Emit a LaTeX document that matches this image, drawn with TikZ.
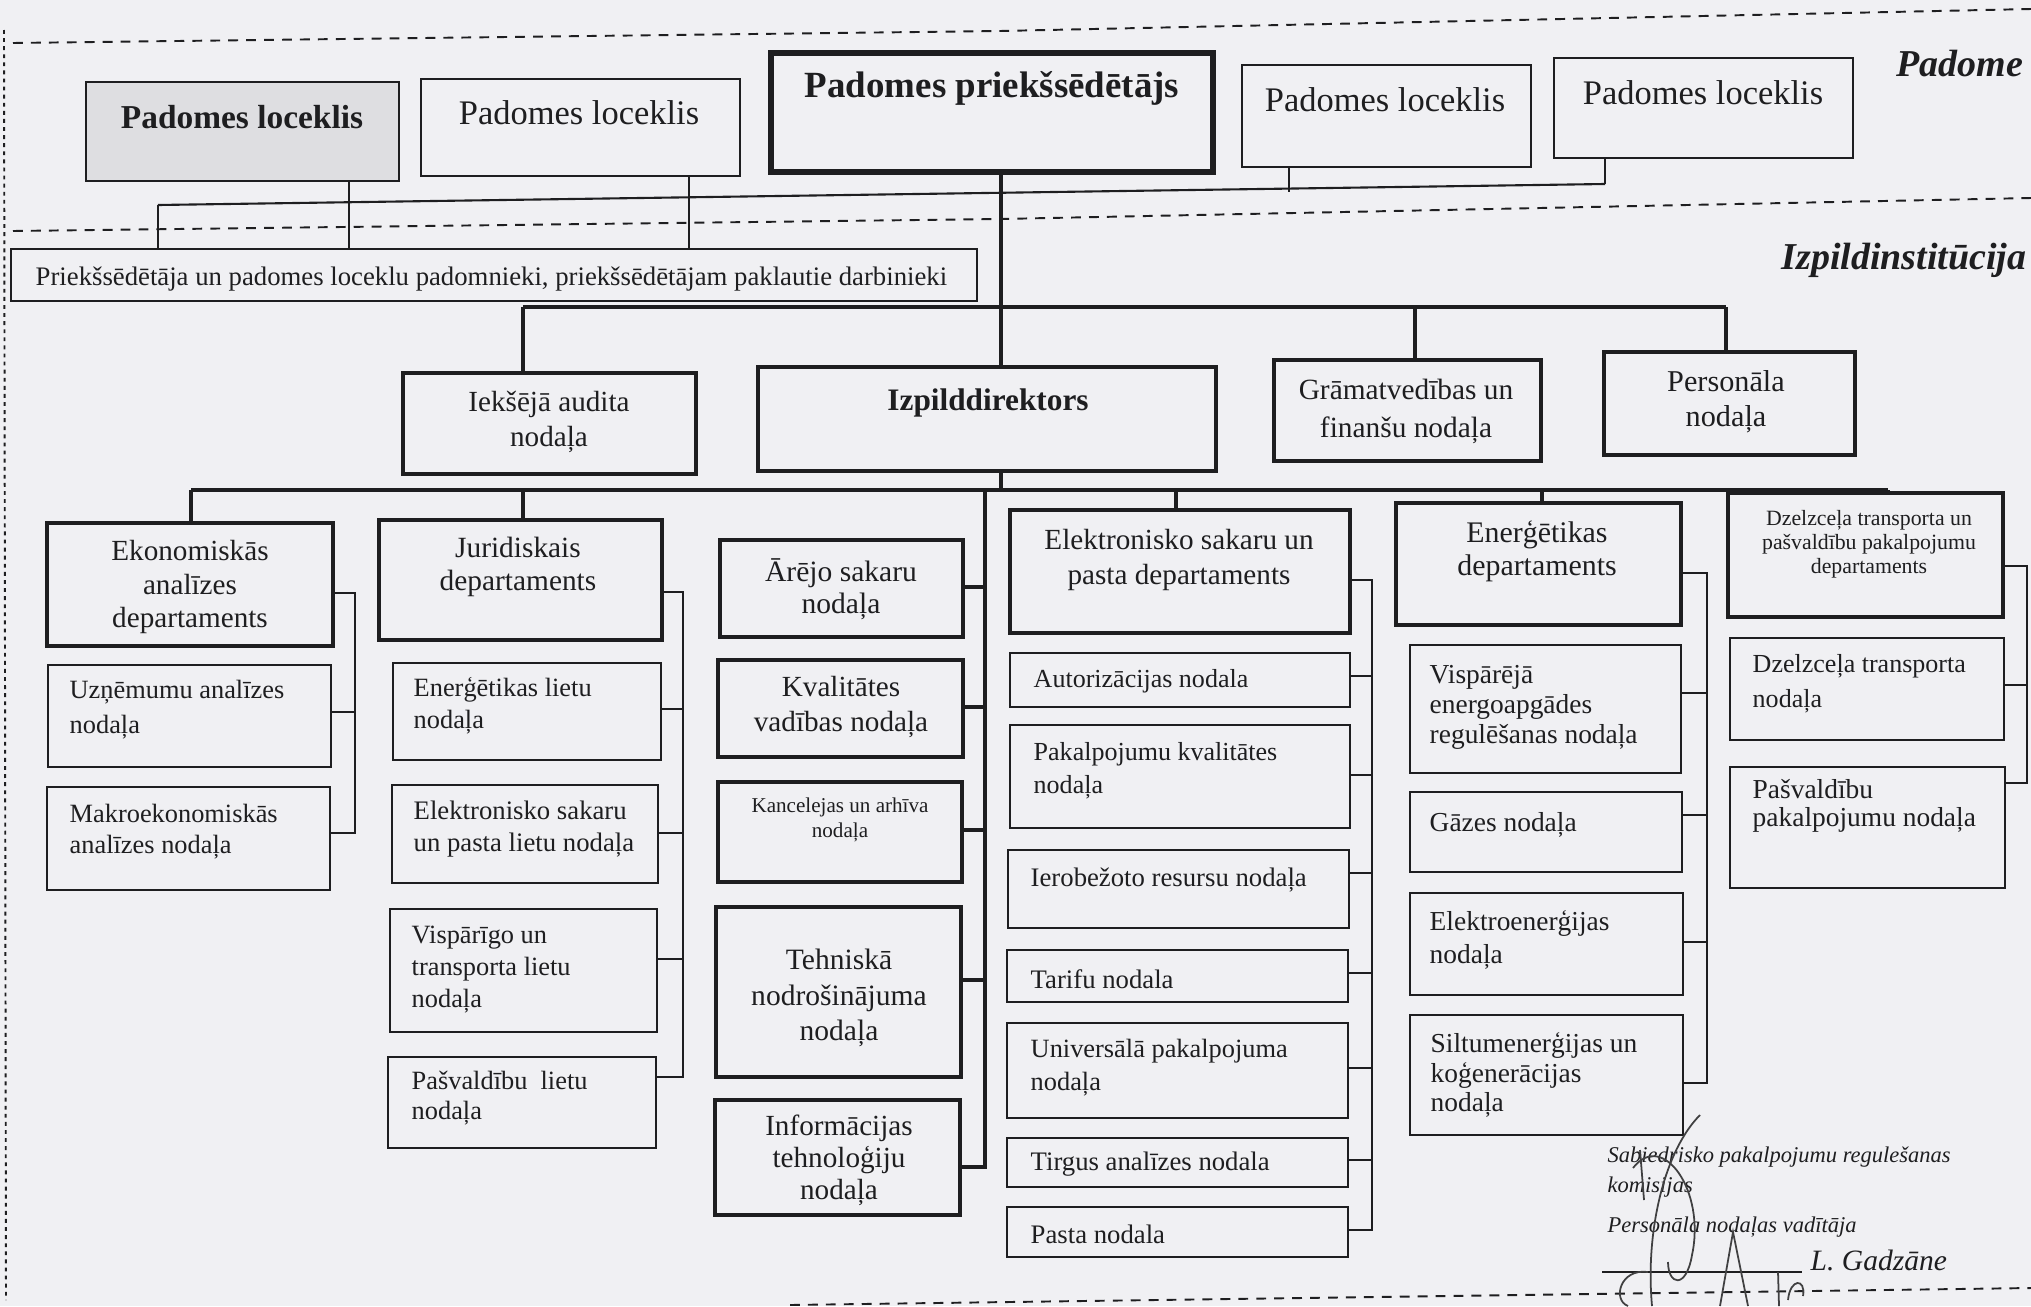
\documentclass[tikz,border=0pt]{standalone}
\usepackage{fontspec}
\setmainfont{Liberation Serif}
\usetikzlibrary{fit}
\definecolor{ink}{RGB}{30,30,32}
\definecolor{paper}{RGB}{240,240,243}
\definecolor{pfill}{RGB}{222,222,225}
\newcommand\myfs[2]{\fontsize{#1}{#2}\selectfont}
\begin{document}
\begin{tikzpicture}[x=0.01cm,y=-0.01cm,
  thinbox/.style={draw=ink,line width=0.6pt,inner sep=0pt},
  medbox/.style={draw=ink,line width=1.0pt,inner sep=0pt},
  thickbox/.style={draw=ink,line width=1.3pt,inner sep=0pt},
  chairbox/.style={draw=ink,line width=1.7pt,inner sep=0pt},
  thinln/.style={draw=ink,line width=0.6pt},
  thickln/.style={draw=ink,line width=1.2pt},
  dashln/.style={draw=ink,line width=0.55pt,dash pattern=on 2.8pt off 2.3pt},
  sig/.style={draw=ink!85,line width=0.5pt},
  ctxt/.style={inner sep=0pt,text=ink,align=center},
  ltxt/.style={inner sep=0pt,text=ink,align=left,anchor=west},
]
\useasboundingbox (0,0) rectangle (2031,1306);
\fill[paper] (0,0) rectangle (2031,1306);

% ---------- dashed separators ----------
\coordinate (d1a) at (13,43); \coordinate (d1b) at (1000,31); \coordinate (d1c) at (2031,9);
\draw[dashln] (d1a) -- (d1b) -- (d1c);
\coordinate (d2a) at (13,231); \coordinate (d2b) at (1000,219); \coordinate (d2c) at (2031,198);
\draw[dashln] (d2a) -- (d2b) -- (d2c);
\coordinate (d3a) at (790,1305); \coordinate (d3b) at (2031,1288);
\draw[dashln] (d3a) -- (d3b);
\coordinate (d4a) at (4,30); \coordinate (d4b) at (6,1300);
\draw[dashln,dash pattern=on 1.1pt off 1.2pt] (d4a) -- (d4b);

% ---------- Padome ----------
\node[thinbox,fill=pfill,fit={(86,82) (399,181)}] (p1) {};
\node[thinbox,fit={(421,79) (740,176)}] (p2) {};
\node[chairbox,fit={(771,53) (1213,172)}] (chair) {};
\node[thinbox,fit={(1242,65) (1531,167)}] (p3) {};
\node[thinbox,fit={(1554,58) (1853,158)}] (p4) {};
\node[ctxt,font=\bfseries\myfs{9.5}{11}] (p1t) at (242,117) {Padomes loceklis};
\node[ctxt,font=\myfs{9.8}{11}] (p2t) at (579,113) {Padomes loceklis};
\node[ctxt,font=\bfseries\myfs{10.5}{12}] (chairt) at (992,88) {Padomes priekšsēdētājs};
\node[ctxt,font=\myfs{9.8}{11}] (p3t) at (1385,100) {Padomes loceklis};
\node[ctxt,font=\myfs{9.8}{11}] (p4t) at (1703,93) {Padomes loceklis};
\node[ctxt,font=\bfseries\itshape\myfs{10.8}{12}] (lpad) at (1960,64) {Padome};
\node[ctxt,font=\bfseries\itshape\myfs{10.8}{12}] (lizp) at (1904,260) {Izpildinstitūcija};

\node[thinbox,fit={(11,249) (977,301)}] (adv) {};
\node[ltxt,font=\myfs{7.6}{9}] (advt) at (35,279) {Priekšsēdētāja un padomes loceklu padomnieki, priekšsēdētājam paklautie darbinieki};

% Padome connectors
\coordinate (pbL) at (158,205); \coordinate (pbR) at (1605,184);
\coordinate (cp1) at (349,0); \coordinate (cp2) at (689,0); \coordinate (cp3) at (1289,0);
\draw[thinln] (pbL) -- (pbR);
\draw[thinln] (pbL) -- (pbL |- adv.north);
\draw[thinln] (p1.south -| cp1) -- (adv.north -| cp1);
\draw[thinln] (p2.south -| cp2) -- (adv.north -| cp2);
\draw[thinln] (p3.south -| cp3) -- (cp3 |- 0,192);
\draw[thinln] (p4.south -| pbR) -- (pbR);

% ---------- level 2 ----------
\node[medbox,fit={(403,373) (696,474)}] (iaudit) {};
\node[thickbox,fit={(758,367) (1216,471)}] (izp) {};
\node[medbox,fit={(1274,360) (1541,461)}] (gram) {};
\node[medbox,fit={(1604,352) (1855,455)}] (pers) {};
\node[ctxt,font=\myfs{8.3}{10}] (iauditt) at (549,422) {Iekšējā audita\\nodaļa};
\node[ctxt,font=\bfseries\myfs{8.9}{10}] (izpt) at (988,403) {Izpilddirektors};
\node[ctxt,font=\myfs{8.35}{10.8}] (gramt) at (1406,411) {Grāmatvedības un\\finanšu nodaļa};
\node[ctxt,font=\myfs{8.6}{10}] (perst) at (1726,402) {Personāla\\nodaļa};

\coordinate (b1) at (1001,0);
\draw[thickln] (chair.south -| b1) -- (izp.north -| b1);
\coordinate (bA) at (523,307); \coordinate (bB) at (1415,307); \coordinate (bC) at (1726,307);
\draw[thickln] (bA) -- (bC);
\draw[thickln] (bA) -- (bA |- iaudit.north);
\draw[thickln] (bB) -- (bB |- gram.north);
\draw[thickln] (bC) -- (bC |- pers.north);

% ---------- level 3 ----------
\node[medbox,fit={(47,523) (333,646)}] (ekon) {};
\node[medbox,fit={(379,520) (662,640)}] (jur) {};
\node[medbox,fit={(720,540) (963,637)}] (arej) {};
\node[medbox,fit={(1010,510) (1350,633)}] (elek) {};
\node[medbox,fit={(1396,503) (1681,625)}] (energ) {};
\node[medbox,fit={(1728,493) (2003,617)}] (dzelz) {};
\node[ctxt,font=\myfs{8.3}{9.5}] (ekont) at (190,587) {Ekonomiskās\\analīzes\\departaments};
\node[ctxt,font=\myfs{8.35}{9.4}] (jurt) at (518,567) {Juridiskais\\departaments};
\node[ctxt,font=\myfs{8.4}{9.1}] (arejt) at (841,589) {Ārējo sakaru\\nodaļa};
\node[ctxt,font=\myfs{8.3}{10}] (elekt) at (1179,560) {Elektronisko sakaru un\\pasta departaments};
\node[ctxt,font=\myfs{8.5}{9.4}] (energt) at (1537,551) {Enerģētikas\\departaments};
\node[ctxt,font=\myfs{6.2}{6.8}] (dzelzt) at (1869,544) {Dzelzceļa transporta un\\pašvaldību pakalpojumu\\departaments};

\coordinate (b2) at (1001,490);
\draw[thickln] (izp.south -| b2) -- (b2);
\coordinate (cA) at (191,490); \coordinate (cB) at (523,490); \coordinate (cS) at (985,490);
\coordinate (cE) at (1176,490); \coordinate (cF) at (1542,490); \coordinate (cG) at (1888,490);
\draw[thickln] (cA) -- (cG);
\draw[thickln] (cA) -- (cA |- ekon.north);
\draw[thickln] (cB) -- (cB |- jur.north);
\draw[thickln] (cE) -- (cE |- elek.north);
\draw[thickln] (cF) -- (cF |- energ.north);
\draw[thickln] (cG) -- (cG |- dzelz.north);

% ---------- column 1 ----------
\node[thinbox,fit={(48,665) (331,767)}] (uzn) {};
\node[thinbox,fit={(47,787) (330,890)}] (makro) {};
\node[ltxt,font=\myfs{7.5}{10}] (uznt) at (69,710) {Uzņēmumu analīzes\\nodaļa};
\node[ltxt,font=\myfs{7.5}{8.8}] (makrot) at (69,832) {Makroekonomiskās\\analīzes nodaļa};
\coordinate (k1a) at (355,593); \coordinate (k1b) at (355,712); \coordinate (k1c) at (355,833);
\draw[thinln] (ekon.east |- k1a) -- (k1a) -- (k1c) -- (makro.east |- k1c);
\draw[thinln] (uzn.east |- k1b) -- (k1b);

% ---------- column 2 ----------
\node[thinbox,fit={(393,663) (661,760)}] (enl) {};
\node[thinbox,fit={(392,785) (658,883)}] (esl) {};
\node[thinbox,fit={(390,909) (657,1032)}] (vtl) {};
\node[thinbox,fit={(388,1057) (656,1148)}] (pvl) {};
\node[ltxt,font=\myfs{7.5}{9.1}] (enlt) at (413,706) {Enerģētikas lietu\\nodaļa};
\node[ltxt,font=\myfs{7.6}{9.1}] (eslt) at (413,829) {Elektronisko sakaru\\un pasta lietu nodaļa};
\node[ltxt,font=\myfs{7.5}{9.1}] (vtlt) at (411,970) {Vispārīgo un\\transporta lietu\\nodaļa};
\node[ltxt,font=\myfs{7.5}{8.5}] (pvlt) at (411,1098) {Pašvaldību\ \ lietu\\nodaļa};
\coordinate (k2a) at (683,592); \coordinate (k2b) at (683,709); \coordinate (k2c) at (683,833);
\coordinate (k2d) at (683,959); \coordinate (k2e) at (683,1077);
\draw[thinln] (jur.east |- k2a) -- (k2a) -- (k2e) -- (pvl.east |- k2e);
\draw[thinln] (enl.east |- k2b) -- (k2b);
\draw[thinln] (esl.east |- k2c) -- (k2c);
\draw[thinln] (vtl.east |- k2d) -- (k2d);

% ---------- column 3 (spine) ----------
\node[medbox,fit={(718,660) (963,757)}] (kval) {};
\node[medbox,fit={(718,782) (962,882)}] (kanc) {};
\node[medbox,fit={(716,907) (961,1077)}] (tehn) {};
\node[medbox,fit={(715,1100) (960,1215)}] (info) {};
\node[ctxt,font=\myfs{8.3}{10}] (kvalt) at (841,707) {Kvalitātes\\vadības nodaļa};
\node[ctxt,font=\myfs{6}{7.1}] (kanct) at (840,820) {Kancelejas un arhīva\\nodaļa};
\node[ctxt,font=\myfs{8.4}{10}] (tehnt) at (839,998) {Tehniskā\\nodrošinājuma\\nodaļa};
\node[ctxt,font=\myfs{8.3}{9.1}] (infot) at (839,1160) {Informācijas\\tehnoloģiju\\nodaļa};
\coordinate (s1) at (985,587); \coordinate (s2) at (985,707); \coordinate (s3) at (985,830);
\coordinate (s4) at (985,980); \coordinate (s5) at (985,1167);
\draw[thickln] (cS) -- (s5) -- (info.east |- s5);
\draw[thickln] (arej.east |- s1) -- (s1);
\draw[thickln] (kval.east |- s2) -- (s2);
\draw[thickln] (kanc.east |- s3) -- (s3);
\draw[thickln] (tehn.east |- s4) -- (s4);

% ---------- column 4 ----------
\node[thinbox,fit={(1010,653) (1350,707)}] (autor) {};
\node[thinbox,fit={(1010,725) (1350,828)}] (pakkv) {};
\node[thinbox,fit={(1008,850) (1349,928)}] (ierob) {};
\node[thinbox,fit={(1007,950) (1348,1002)}] (tarif) {};
\node[thinbox,fit={(1007,1023) (1348,1118)}] (univ) {};
\node[thinbox,fit={(1007,1138) (1348,1187)}] (tirg) {};
\node[thinbox,fit={(1007,1207) (1348,1257)}] (pasta) {};
\node[ltxt,font=\myfs{7.4}{9}] (autort) at (1033,681) {Autorizācijas nodala};
\node[ltxt,font=\myfs{7.4}{9.4}] (pakkvt) at (1033,771) {Pakalpojumu kvalitātes\\nodaļa};
\node[ltxt,font=\myfs{7.6}{9}] (ierobt) at (1030,880) {Ierobežoto resursu nodaļa};
\node[ltxt,font=\myfs{7.6}{9}] (tarift) at (1030,979) {Tarifu nodala};
\node[ltxt,font=\myfs{7.5}{9.4}] (univt) at (1030,1068) {Universālā pakalpojuma\\nodaļa};
\node[ltxt,font=\myfs{7.6}{9}] (tirgt) at (1030,1164) {Tirgus analīzes nodala};
\node[ltxt,font=\myfs{7.6}{9}] (pastat) at (1030,1234) {Pasta nodala};
\coordinate (k4a) at (1372,580); \coordinate (k4b) at (1372,676); \coordinate (k4c) at (1372,775);
\coordinate (k4d) at (1372,873); \coordinate (k4e) at (1372,973); \coordinate (k4f) at (1372,1068);
\coordinate (k4g) at (1372,1160); \coordinate (k4h) at (1372,1230);
\draw[thinln] (elek.east |- k4a) -- (k4a) -- (k4h) -- (pasta.east |- k4h);
\draw[thinln] (autor.east |- k4b) -- (k4b);
\draw[thinln] (pakkv.east |- k4c) -- (k4c);
\draw[thinln] (ierob.east |- k4d) -- (k4d);
\draw[thinln] (tarif.east |- k4e) -- (k4e);
\draw[thinln] (univ.east |- k4f) -- (k4f);
\draw[thinln] (tirg.east |- k4g) -- (k4g);

% ---------- column 5 ----------
\node[thinbox,fit={(1410,645) (1681,773)}] (vispe) {};
\node[thinbox,fit={(1410,792) (1682,872)}] (gaz) {};
\node[thinbox,fit={(1410,893) (1683,995)}] (elen) {};
\node[thinbox,fit={(1410,1015) (1683,1135)}] (silt) {};
\node[ltxt,font=\myfs{7.8}{8.5}] (vispet) at (1429,707) {Vispārējā\\energoapgādes\\regulēšanas nodaļa};
\node[ltxt,font=\myfs{7.8}{9}] (gazt) at (1429,825) {Gāzes nodaļa};
\node[ltxt,font=\myfs{7.8}{9.4}] (elent) at (1429,940) {Elektroenerģijas\\nodaļa};
\node[ltxt,font=\myfs{7.8}{8.5}] (siltt) at (1430,1075) {Siltumenerģijas un\\koģenerācijas\\nodaļa};
\coordinate (k5a) at (1707,573); \coordinate (k5b) at (1707,693); \coordinate (k5c) at (1707,815);
\coordinate (k5d) at (1707,942); \coordinate (k5e) at (1707,1083);
\draw[thinln] (energ.east |- k5a) -- (k5a) -- (k5e) -- (silt.east |- k5e);
\draw[thinln] (vispe.east |- k5b) -- (k5b);
\draw[thinln] (gaz.east |- k5c) -- (k5c);
\draw[thinln] (elen.east |- k5d) -- (k5d);

% ---------- column 6 ----------
\node[thinbox,fit={(1730,638) (2004,740)}] (dztr) {};
\node[thinbox,fit={(1730,767) (2005,888)}] (pvp) {};
\node[ltxt,font=\myfs{7.4}{10}] (dztrt) at (1752,684) {Dzelzceļa transporta\\nodaļa};
\node[ltxt,font=\myfs{7.8}{8}] (pvpt) at (1752,806) {Pašvaldību\\pakalpojumu nodaļa};
\coordinate (k6a) at (2027,566); \coordinate (k6b) at (2027,685); \coordinate (k6c) at (2027,783);
\draw[thinln] (dzelz.east |- k6a) -- (k6a) -- (k6c) -- (pvp.east |- k6c);
\draw[thinln] (dztr.east |- k6b) -- (k6b);

% ---------- signature block ----------
\node[ltxt,font=\itshape\myfs{6.4}{8.3}] (sig1) at (1607,1172) {Sabiedrisko pakalpojumu regulešanas\\komisijas};
\node[ltxt,font=\itshape\myfs{6.4}{8}] (sig2) at (1607,1227) {Personāla nodaļas vadītāja};
\node[ltxt,font=\itshape\myfs{8.4}{9}] (sig3) at (1810,1260) {L. Gadzāne};
\coordinate (sl1) at (1602,1272); \coordinate (sl2) at (1802,1272);
\draw[thinln,line width=0.45pt] (sl1) -- (sl2);
\draw[sig] (1700,1115) .. controls (1665,1150) and (1645,1230) .. (1652,1306);
\draw[sig] (1633,1168) .. controls (1662,1130) and (1706,1190) .. (1692,1255) .. controls (1686,1290) and (1668,1285) .. (1668,1262);
\draw[sig] (1720,1306) -- (1733,1232) -- (1748,1306);
\draw[sig] (1778,1272) -- (1779,1306);
\draw[sig] (1788,1300) .. controls (1790,1278) and (1806,1278) .. (1803,1296);
\draw[sig] (1648,1272) .. controls (1620,1268) and (1612,1300) .. (1628,1306);
\draw[sig] (1640,1150) -- (1644,1200);
\end{tikzpicture}
\end{document}
